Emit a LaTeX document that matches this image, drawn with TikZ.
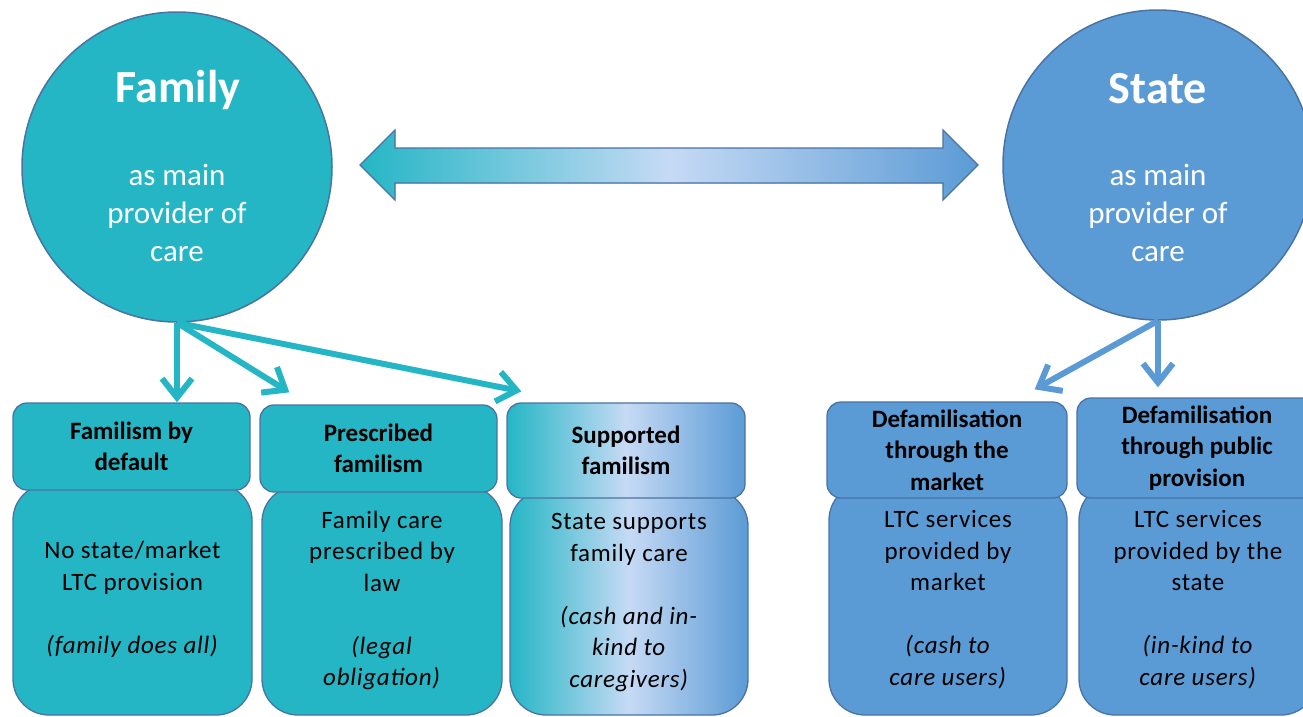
\documentclass[tikz,border=0pt]{standalone}
\usepackage{fontspec}
\setmainfont{Carlito}
\usetikzlibrary{arrows.meta}

\definecolor{famfill}{HTML}{24B6C5}
\definecolor{statefill}{HTML}{5B9BD5}
\definecolor{pale}{HTML}{C6DAF5}
\definecolor{edge}{HTML}{4A73A3}

\begin{document}
\begin{tikzpicture}[x=1pt, y=-1pt,
    bigcirc/.style={circle, draw=edge, line width=1.5pt, minimum size=310pt, inner sep=0pt},
    circtitle/.style={text=white, font=\fontsize{46}{50}\selectfont\bfseries},
    circtext/.style={text=white, align=center, font=\fontsize{31}{38}\selectfont},
    headbox/.style={draw=edge, line width=1.3pt, rounded corners=14pt, align=center, inner sep=0pt,
        font=\fontsize{25}{31.5}\selectfont\bfseries},
    bodybox/.style={draw=edge, line width=1.3pt, rounded corners=36pt, align=center, inner sep=0pt,
        font=\fontsize{25}{31.5}\selectfont\addfontfeature{LetterSpace=3}},
    famcol/.style={fill=famfill},
    statecol/.style={fill=statefill},
    mixcol/.style={left color=famfill, right color=statefill, middle color=pale},
    famarrow/.style={draw=famfill, line width=6pt, -{Straight Barb[length=19pt,width=30pt]}},
    statearrow/.style={draw=statefill, line width=6pt, -{Straight Barb[length=19pt,width=30pt]}}]
    \useasboundingbox (0,0) rectangle (1303,716);
    \clip (0,0) rectangle (1303,716);

    % the two poles
    \node[bigcirc, famcol] (family) at (177,167) {};
    \node[bigcirc, statecol] (state) at (1158,165) {};
    \node[circtitle] (famtitle) at (178,90) {Family};
    \node[circtext] (famtext) at (177,213) {as main\\provider of\\care};
    \node[circtitle] (statetitle) at (1158,89) {State};
    \node[circtext] (statetext) at (1158,213) {as main\\provider of\\care};

    % continuum between them
    \filldraw[mixcol, draw=edge, line width=1.3pt] (360,165) -- (395,130) -- (395,148) -- (943,148)
        -- (943,130) -- (978,165) -- (943,200) -- (943,183) -- (395,183) -- (395,200) -- cycle;

    % bodies first, headers on top
    \node[bodybox, famcol, minimum width=239pt, minimum height=231pt] (body1) at (132.5,599.5)
        {No state/market\\LTC provision\\[31.5pt]\textit{(family does all)}};
    \node[bodybox, famcol, minimum width=240pt, minimum height=229pt] (body2) at (382,600.5)
        {Family care\\prescribed by\\law\\[31.5pt]\textit{(legal}\\\textit{obligation)}};
    \node[bodybox, mixcol, minimum width=238pt, minimum height=225pt] (body3) at (629,602.5)
        {State supports\\family care\\[31.5pt]\textit{(cash and in-}\\\textit{kind to}\\\textit{caregivers)}};
    \node[bodybox, statecol, minimum width=238pt, minimum height=231pt] (body4) at (948,599.5)
        {LTC services\\provided by\\market\\[31.5pt]\textit{(cash to}\\\textit{care users)}};
    \node[bodybox, statecol, minimum width=238pt, minimum height=231pt] (body5) at (1198,599.5)
        {LTC services\\provided by the\\state\\[31.5pt]\textit{(in-kind to}\\\textit{care users)}};

    \node[headbox, famcol, minimum width=237pt, minimum height=87pt] (hdr1) at (131.5,446.5)
        {Familism by\\default};
    \node[headbox, famcol, minimum width=237pt, minimum height=87pt] (hdr2) at (378.5,448.5)
        {Prescribed\\familism};
    \node[headbox, mixcol, minimum width=238pt, minimum height=95pt] (hdr3) at (626,450.5)
        {Supported\\familism};
    \node[headbox, statecol, minimum width=240pt, minimum height=96pt] (hdr4) at (947,450)
        {Defamilisation\\through the\\market};
    \node[headbox, statecol, minimum width=240pt, minimum height=100pt] (hdr5) at (1197,448)
        {Defamilisation\\through public\\provision};

    % arrows down to the regimes
    \draw[famarrow] (family.south) -- (family.south |- hdr1.north);
    \draw[famarrow] (family.south) -- ([shift={(30pt,12pt)}]hdr2.north west);
    \draw[famarrow] (family.south) -- ([shift={(15pt,11pt)}]hdr3.north west);
    \draw[statearrow] (state.south) -- ([shift={(-33pt,12pt)}]hdr4.north east);
    \draw[statearrow] (state.south) -- ([shift={(-39pt,10pt)}]hdr5.north);
\end{tikzpicture}
\end{document}
